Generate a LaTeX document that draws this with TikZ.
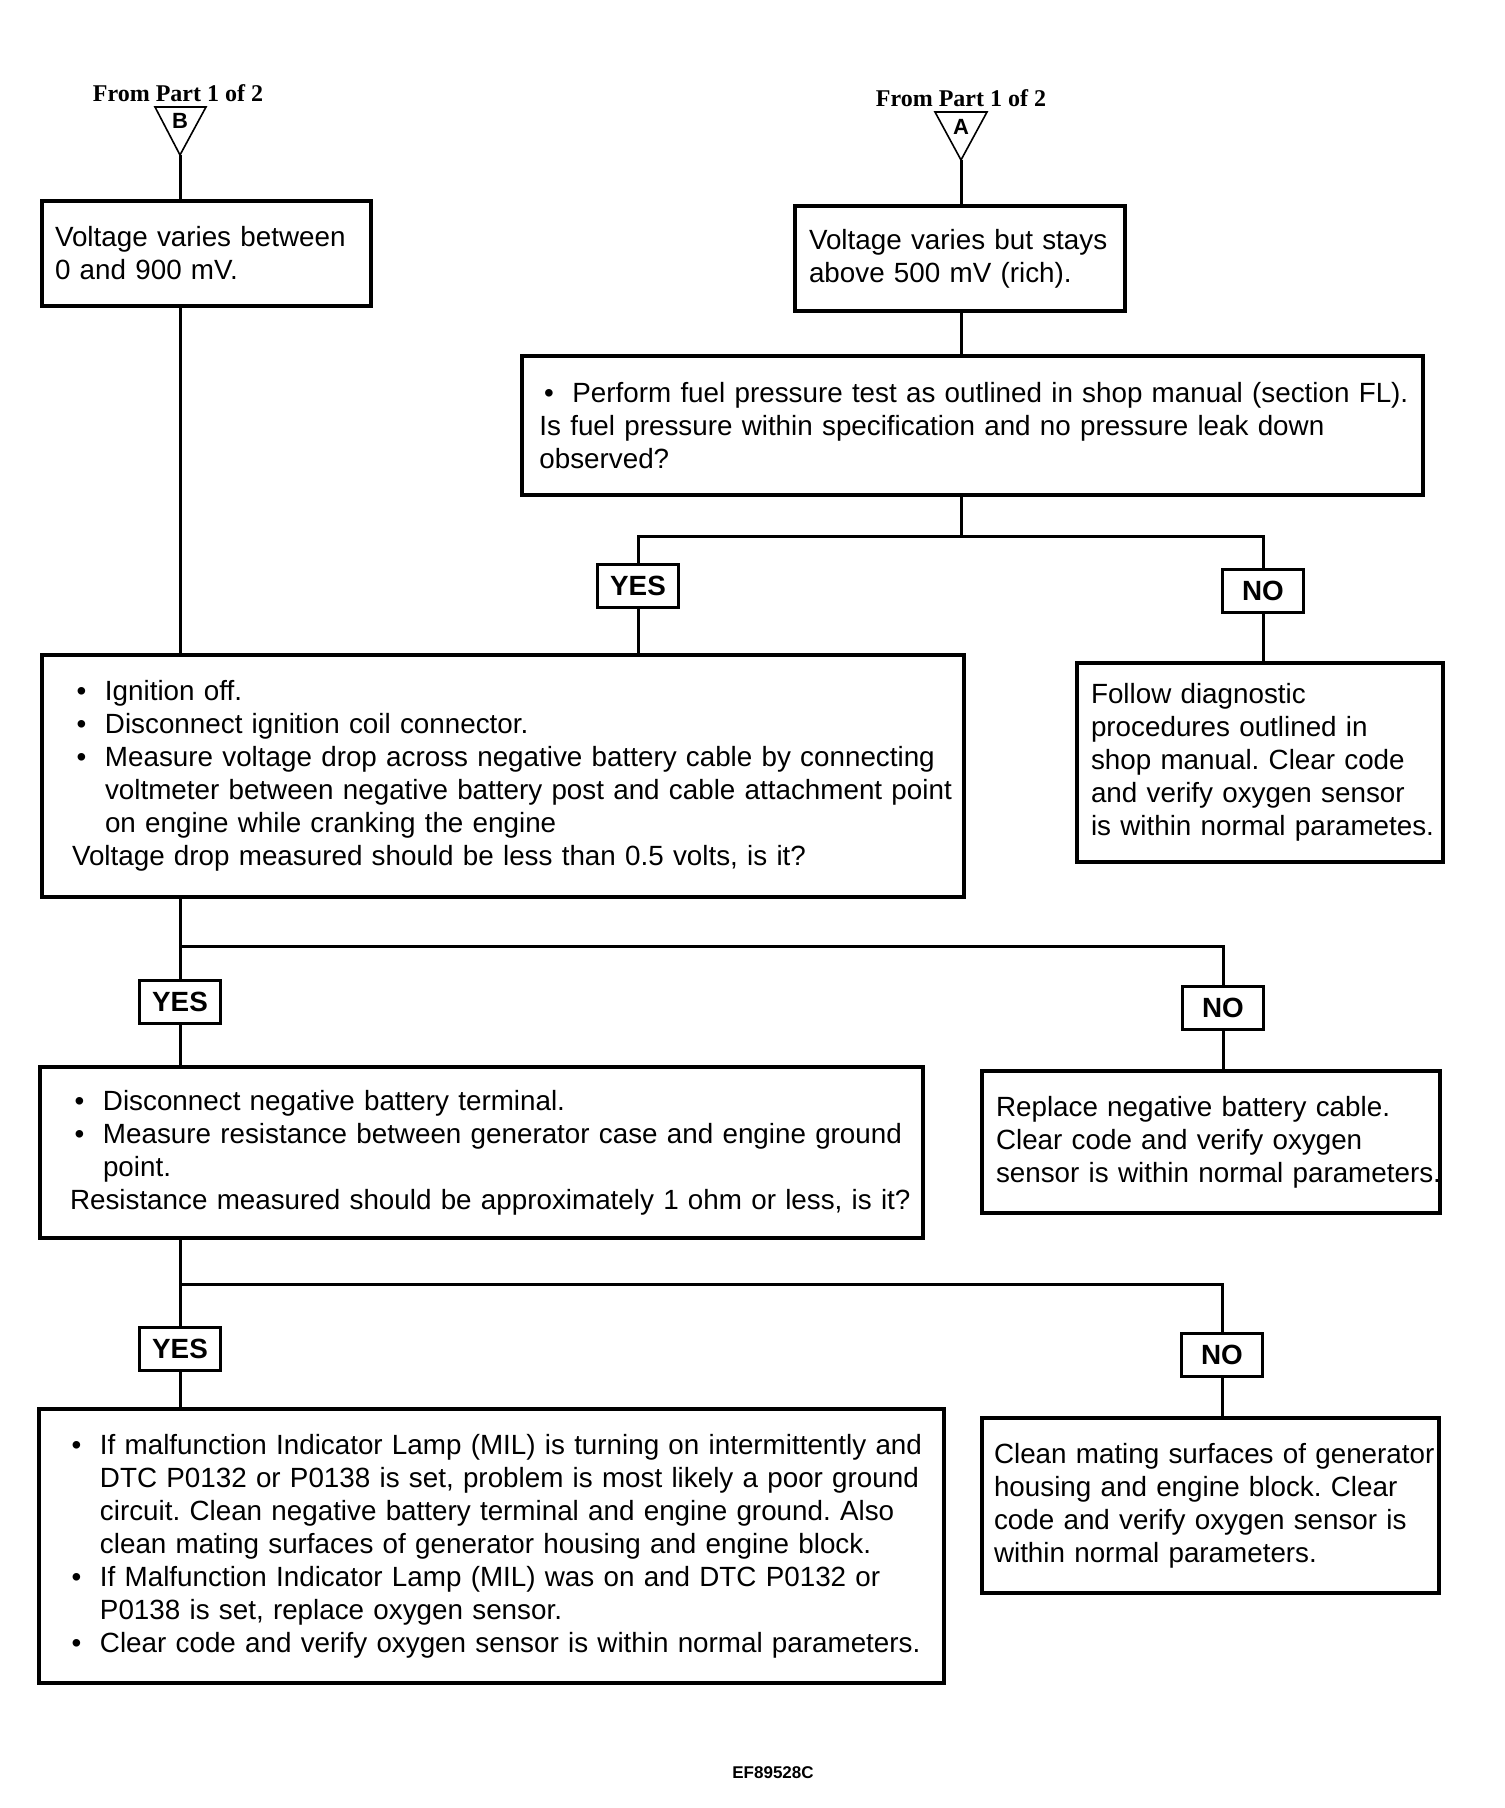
\documentclass[tikz,border=0pt]{standalone}
\usepackage{fontspec}
\setmainfont{Liberation Sans}
\newfontfamily\partfont{Liberation Serif}
\frenchspacing

\newcommand{\boxfont}{\fontsize{13.9}{16.5}\selectfont}
\newcommand{\bitem}{\hangindent=16.5pt\hangafter=1\noindent\makebox[16.5pt][l]{\hspace{2.3pt}\textbullet}}
\newcommand{\nline}{\par\noindent}

\tikzset{
  box/.style={draw, line width=1.8pt, inner sep=0pt, align=left, font=\boxfont,
    execute at begin node={\leftskip=#1\rightskip=-14pt plus 1fil}},
  box/.default=7pt,
  yn/.style={draw, line width=1.8pt, inner sep=0pt, minimum width=40.5pt,
    minimum height=21.5pt, font=\fontsize{13.9}{16}\selectfont\bfseries},
  link/.style={line width=1.5pt},
  tri/.style={line width=0.8pt},
  part/.style={font=\partfont\fontsize{12}{14}\selectfont\bfseries, inner sep=0pt, anchor=base},
}

\begin{document}
\begin{tikzpicture}[x=0.5pt,y=-0.5pt]
\useasboundingbox (0,0) rectangle (1504,1808);

% entry points from part 1
\node[part] (fromB) at (178,102) {From Part 1 of 2};
\draw[tri] (155,107) -- (206,107) -- (180,155) -- cycle;
\coordinate (tipB) at (180,155);
\node[font=\fontsize{11}{12}\selectfont\bfseries, inner sep=0pt] (letB) at (180,121) {B};

\node[part] (fromA) at (961,107) {From Part 1 of 2};
\draw[tri] (935,112) -- (987,112) -- (961,160) -- cycle;
\coordinate (tipA) at (961,160);
\node[font=\fontsize{11}{12}\selectfont\bfseries, inner sep=0pt] (letA) at (961,127) {A};

% boxes
\node[box=6.5pt, text width=164.5pt, minimum height=52.5pt] (boxB) at (206.5,253.5)
  {Voltage varies between\\0 and 900 mV.};
\node[box, text width=165pt, minimum height=52.5pt] (boxA) at (960,258.5)
  {Voltage varies but stays\\above 500 mV (rich).};
\node[box=8.7pt, text width=450.5pt, minimum height=69.5pt] (fuel) at (972.5,425.5)
  {\bitem Perform fuel pressure test as outlined in shop manual (section FL).
   \nline Is fuel pressure within specification and no pressure leak down\break observed?};
\node[box=15pt, text width=461pt, minimum height=121pt] (ign) at (503,776)
  {\bitem Ignition off.
   \par\bitem Disconnect ignition coil connector.
   \par\bitem Measure voltage drop across negative battery cable by connecting\break
   voltmeter between negative battery post and cable attachment point\break
   on engine while cranking the engine
   \nline Voltage drop measured should be less than 0.5 volts, is it?};
\node[box, text width=183pt, minimum height=99.5pt] (follow) at (1260,762.5)
  {Follow diagnostic\\procedures outlined in\\shop manual. Clear code\\and verify oxygen sensor\\is within normal parametes.};
\node[box=15pt, text width=441.5pt, minimum height=85.5pt] (res) at (481.5,1152.5)
  {\bitem Disconnect negative battery terminal.
   \par\bitem Measure resistance between generator case and engine ground\break point.
   \nline Resistance measured should be approximately 1 ohm or less, is it?};
\node[box, text width=229pt, minimum height=71pt] (replace) at (1211,1142)
  {Replace negative battery cable.\\Clear code and verify oxygen\\sensor is within normal parameters.};
\node[box=14pt, text width=452.5pt, minimum height=137pt] (mil) at (491.5,1546)
  {\bitem If malfunction Indicator Lamp (MIL) is turning on intermittently and\break
   DTC P0132 or P0138 is set, problem is most likely a poor ground\break
   circuit. Clean negative battery terminal and engine ground. Also\break
   clean mating surfaces of generator housing and engine block.
   \par\bitem If Malfunction Indicator Lamp (MIL) was on and DTC P0132 or\break
   P0138 is set, replace oxygen sensor.
   \par\bitem Clear code and verify oxygen sensor is within normal parameters.};
\node[box=6pt, text width=228.5pt, minimum height=87.5pt] (clean) at (1210.5,1505.5)
  {Clean mating surfaces of generator\\housing and engine block. Clear\\code and verify oxygen sensor is\\within normal parameters.};

% yes / no tags
\node[yn] (yes1) at (638,586) {YES};
\node[yn] (no1) at (1263,591) {NO};
\node[yn] (yes2) at (180,1002) {YES};
\node[yn] (no2) at (1223,1008) {NO};
\node[yn] (yes3) at (180,1349) {YES};
\node[yn] (no3) at (1222,1355) {NO};

% connectors
\draw[link] (tipB) -- (tipB |- boxB.north);
\draw[link] (tipB |- boxB.south) -- (tipB |- ign.north);
\draw[link] (tipA) -- (tipA |- boxA.north);
\draw[link] (tipA |- boxA.south) -- (tipA |- fuel.north);

\draw[link] (tipA |- fuel.south) -- ++(0,40) coordinate (j1);
\draw[link] (yes1.north) |- (j1) -| (no1.north);
\draw[link] (yes1.south) -- (yes1.south |- ign.north);
\draw[link] (no1.south) -- (no1.south |- follow.north);

\draw[link] (yes2.north |- ign.south) -- (yes2.north);
\coordinate (j2) at (180,946);
\draw[link] (j2) -| (no2.north);
\draw[link] (yes2.south) -- (yes2.south |- res.north);
\draw[link] (no2.south) -- (no2.south |- replace.north);

\draw[link] (yes3.north |- res.south) -- (yes3.north);
\coordinate (j3) at (180,1284);
\draw[link] (j3) -| (no3.north);
\draw[link] (yes3.south) -- (yes3.south |- mil.north);
\draw[link] (no3.south) -- (no3.south |- clean.north);

\node[font=\fontsize{8.5}{10}\selectfont\bfseries, inner sep=0pt] (code) at (773,1773) {EF89528C};
\end{tikzpicture}
\end{document}
